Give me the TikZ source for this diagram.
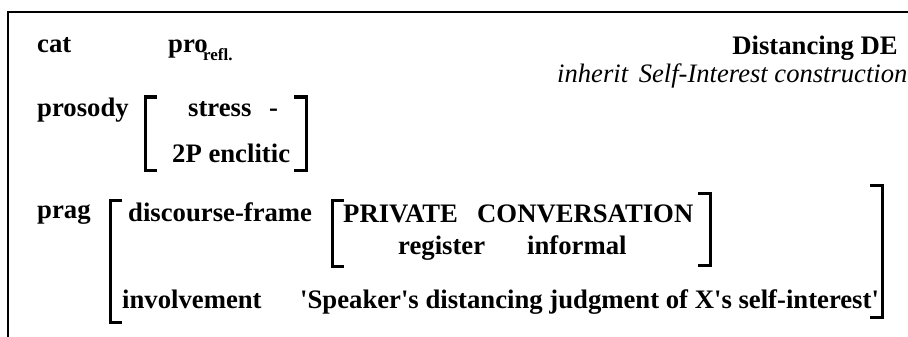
\documentclass[tikz,border=0pt]{standalone}
\usepackage{fontspec}
% plain straight apostrophes: no TeX quote mapping
\setmainfont{Liberation Serif}[Ligatures=TeXOff]
\begin{document}
\begin{tikzpicture}[x=1pt,y=-1pt,
  lbl/.style={anchor=base west,inner sep=0pt,font=\fontsize{26.7}{32}\selectfont\bfseries},
  sub/.style={anchor=base west,inner sep=0pt,font=\fontsize{17}{20}\selectfont\bfseries},
  itl/.style={anchor=base west,inner sep=0pt,font=\fontsize{26.6}{32}\selectfont\itshape},
  frame/.style={line width=1.5pt},
  brk/.style={line width=3pt,line cap=butt,line join=miter}]
\useasboundingbox (0,0) rectangle (908,337);

% open frame along the top and left
\draw[frame] (908,12) -- (8,12) -- (8,337);

% header
\node[lbl,anchor=base east] (title) at (898,55) {Distancing DE};
\node[itl] (inherit) at (557,82) {inherit\hspace{0.4em}Self-Interest construction};

% cat
\node[lbl] (cat) at (37,53) {cat};
\node[lbl] (pro) at (168,53) {pro};
\node[sub] (refl) at (203,61) {refl.};

% prosody
\node[lbl] (prosody) at (37,117) {prosody};
\node[lbl] (stress) at (188,117) {stress};
\node[lbl] (dash) at (269,117) {-};
\node[lbl] (encl) at (172,162) {2P enclitic};
\draw[brk] (157,97) -- (145,97) -- (145,170) -- (157,170);
\draw[brk] (294,97) -- (306,97) -- (306,170) -- (294,170);

% prag
\node[lbl] (prag) at (37,218) {prag};
\node[lbl] (dframe) at (128,221) {discourse-frame};
\node[lbl] (private) at (343,222) {PRIVATE};
\node[lbl] (conv) at (477,222) {CONVERSATION};
\node[lbl] (register) at (398,254) {register};
\node[lbl] (informal) at (527,254) {informal};
\node[lbl] (involve) at (122,308) {involvement};
\node[lbl] (judg) at (300,308) {'Speaker's distancing judgment of X's self-interest'};

% outer bracket of prag
\draw[brk] (122,200) -- (110,200) -- (110,322) -- (122,322);
\draw[brk] (870,185) -- (882,185) -- (882,317) -- (870,317);
% inner bracket of the frame value
\draw[brk] (344,200) -- (332,200) -- (332,266) -- (344,266);
\draw[brk] (698,193) -- (710,193) -- (710,265) -- (698,265);
\end{tikzpicture}
\end{document}
